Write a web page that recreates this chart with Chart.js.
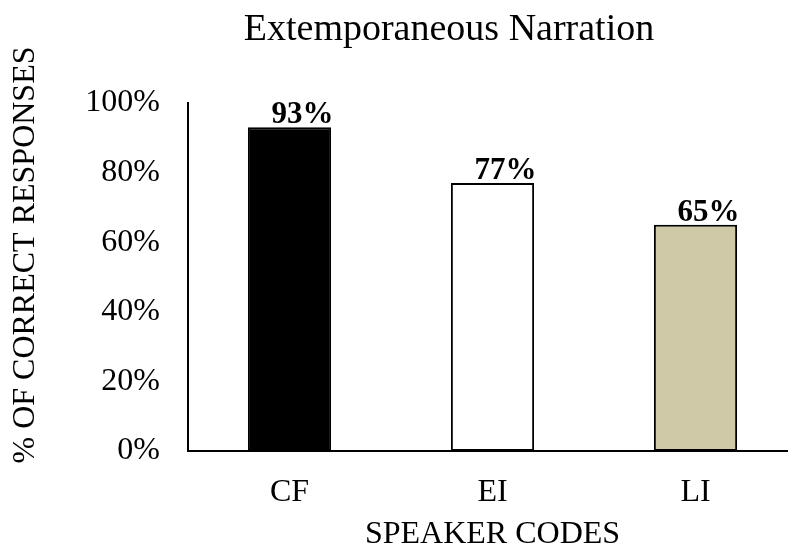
<!DOCTYPE html>
<html>
<head>
<meta charset="utf-8">
<style>
  html, body { margin: 0; padding: 0; background: #fff; overflow: hidden; }
  #chart { display: block; }
</style>
<script src="https://cdn.jsdelivr.net/npm/chart.js@4.4.1/dist/chart.umd.min.js"></script>
</head>
<body>
<canvas id="chart" width="800" height="546"></canvas>
<script>
/* chart data */
const speakerCodes = ["CF", "EI", "LI"];
const correctPct = [93, 77, 65];
const barColors = ["#000000", "#ffffff", "#cfc9a8"];
const yTicks = [0, 20, 40, 60, 80, 100];

const chartTitle = "Extemporaneous Narration";
const xTitle = "SPEAKER CODES";
const yTitle = "% OF CORRECT RESPONSES";

const serif = "'Liberation Serif', 'Times New Roman', serif";

/* value labels above the bars and the titles */
const textPlugin = {
  id: "textPlugin",
  afterDraw(chart) {
    const ctx = chart.ctx;
    const meta = chart.getDatasetMeta(0);
    const area = chart.chartArea;
    ctx.save();
    ctx.fillStyle = "#000";
    ctx.textAlign = "center";
    ctx.textBaseline = "alphabetic";

    ctx.font = "bold 31px " + serif;
    meta.data.forEach((bar, i) => {
      ctx.fillText(correctPct[i] + "%", bar.x + 13, bar.y - 4);
    });

    ctx.font = "38px " + serif;
    ctx.fillText(chartTitle, 449, 40);

    ctx.font = "32px " + serif;
    ctx.fillText(xTitle, (area.left + area.right) / 2, 543);

    ctx.textBaseline = "middle";
    ctx.translate(26, 255);
    ctx.rotate(-Math.PI / 2);
    ctx.fillText(yTitle, 0, 0);
    ctx.restore();
  },
};

function displayChart() {
  const config = {
    type: "bar",
    data: {
      labels: speakerCodes,
      datasets: [
        {
          data: correctPct,
          backgroundColor: barColors,
          borderColor: "#000",
          borderWidth: 2,
          borderSkipped: false,
          categoryPercentage: 1,
          barPercentage: 0.41,
        },
      ],
    },
    options: {
      responsive: false,
      animation: false,
      layout: { padding: { top: 103, right: 3, bottom: 0, left: 0 } },
      plugins: {
        legend: { display: false },
        title: { display: false },
        tooltip: { enabled: false },
      },
      scales: {
        x: {
          grid: { display: false, drawTicks: false },
          border: { display: true, color: "#000", width: 2 },
          ticks: {
            color: "#000",
            font: { family: serif, size: 32 },
            padding: 22,
          },
          afterFit(scale) {
            scale.height = 95;
          },
        },
        y: {
          min: 0,
          max: 100,
          grid: { display: false, drawTicks: false },
          border: { display: true, color: "#000", width: 2 },
          afterBuildTicks(scale) {
            scale.ticks = yTicks.map((v) => ({ value: v }));
          },
          ticks: {
            color: "#000",
            font: { family: serif, size: 32 },
            padding: 28,
            callback: (v) => v + "%",
          },
          afterFit(scale) {
            scale.width = 188;
          },
        },
      },
    },
    plugins: [textPlugin],
  };
  new Chart(document.getElementById("chart"), config);
}

displayChart();
</script>
</body>
</html>
